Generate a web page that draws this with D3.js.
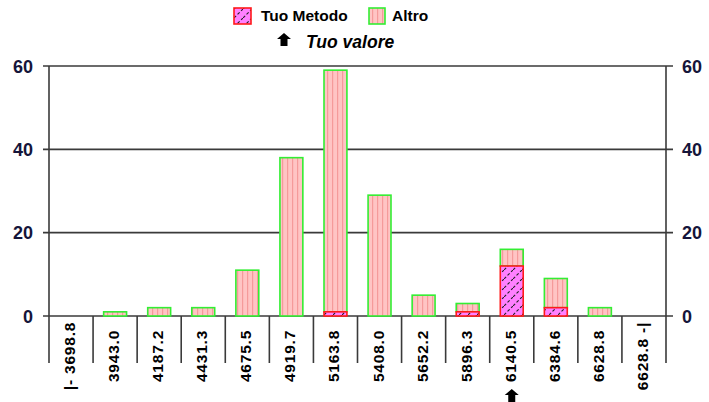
<!DOCTYPE html>
<html><head><meta charset="utf-8">
<script src="https://cdn.jsdelivr.net/npm/d3@7"></script>
<style>body{margin:0;background:#fff}svg{display:block;font-family:"Liberation Sans",Arial,sans-serif}</style>
</head><body>
<svg id="c" width="709" height="402"></svg>
<script>
const categories = ["|- 3698.8","3943.0","4187.2","4431.3","4675.5","4919.7","5163.8","5408.0","5652.2","5896.3","6140.5","6384.6","6628.8","6628.8 -|"];
const tuoMetodo = [0,0,0,0,0,0,1,0,0,1,12,2,0,0];
const altro =     [0,1,2,2,11,38,58,29,5,2,4,7,2,0];
const yTicks = [0,20,40,60];
const seriesNames = ["Tuo Metodo","Altro"];
const markedCategory = "6140.5";
const markerLabel = "Tuo valore";

const svg = d3.select("#c");
const defs = svg.append("defs");
const pa = defs.append("pattern").attr("id","pAltro").attr("patternUnits","userSpaceOnUse").attr("width",5).attr("height",10);
pa.append("rect").attr("width",5).attr("height",10).attr("fill","#ffc4c4");
pa.append("rect").attr("x",2).attr("width",1.2).attr("height",10).attr("fill","#f59a9a");
const pt = defs.append("pattern").attr("id","pTM").attr("patternUnits","userSpaceOnUse").attr("width",9).attr("height",9);
pt.append("rect").attr("width",9).attr("height",9).attr("fill","#ff80ff");
pt.append("line").attr("x1",0).attr("y1",9).attr("x2",9).attr("y2",0).attr("stroke","#222").attr("stroke-width",1.1).attr("stroke-dasharray","3,2");

const x = d3.scaleBand().domain(categories).range([49,666]).paddingInner(0).paddingOuter(0);
const y = d3.scaleLinear().domain([0,60]).range([316,66]);

const gridColor = "#3a3a3a";
svg.append("g").selectAll("line").data(yTicks).join("line")
  .attr("x1",43).attr("x2",673).attr("y1",d=>y(d)).attr("y2",d=>y(d))
  .attr("stroke",gridColor).attr("stroke-width",1.6);

const bounds = categories.map(c=>x(c)).concat([x(categories[categories.length-1])+x.bandwidth()]);
svg.append("g").selectAll("line").data(bounds).join("line")
  .attr("x1",d=>d).attr("x2",d=>d).attr("y1",316).attr("y2",363)
  .attr("stroke",gridColor).attr("stroke-width",1.6);
svg.append("line").attr("x1",49).attr("x2",49).attr("y1",y(60)).attr("y2",316).attr("stroke",gridColor).attr("stroke-width",1.6);
svg.append("line").attr("x1",666).attr("x2",666).attr("y1",y(60)).attr("y2",316).attr("stroke",gridColor).attr("stroke-width",1.6);

const tickColor = "#15153a";
svg.append("g").selectAll("text").data(yTicks).join("text")
  .attr("x",33).attr("y",d=>y(d)+6.5).attr("text-anchor","end")
  .attr("font-size",18).attr("font-weight","bold").attr("fill",tickColor).text(d=>d);
svg.append("g").selectAll("text").data(yTicks).join("text")
  .attr("x",682).attr("y",d=>y(d)+6.5).attr("text-anchor","start")
  .attr("font-size",18).attr("font-weight","bold").attr("fill",tickColor).text(d=>d);

const bw = x.bandwidth()*0.52;
const barG = svg.append("g");
categories.forEach((c,i)=>{
  const cx = x(c)+x.bandwidth()/2;
  const t = tuoMetodo[i], a = altro[i];
  if (a>0) {
    barG.append("rect").attr("x",cx-bw/2).attr("width",bw)
      .attr("y",y(t+a)).attr("height",y(t)-y(t+a))
      .attr("fill","url(#pAltro)").attr("stroke","#33ee33").attr("stroke-width",1.6);
  }
  if (t>0) {
    barG.append("rect").attr("x",cx-bw/2).attr("width",bw)
      .attr("y",y(t)).attr("height",y(0)-y(t))
      .attr("fill","url(#pTM)").attr("stroke","#ff1a1a").attr("stroke-width",1.6);
  }
});

svg.append("g").selectAll("text").data(categories).join("text")
  .attr("transform",d=>`translate(${x(d)+x.bandwidth()/2+4},356) rotate(-90)`)
  .attr("text-anchor","middle").attr("font-size",15.5).attr("letter-spacing",0.8)
  .attr("font-weight","bold").attr("fill","#000").text(d=>d);

function arrow(cx, top){
  const p = [[cx,top],[cx+7,top+6],[cx+3.5,top+6],[cx+3.5,top+13],[cx-3.5,top+13],[cx-3.5,top+6],[cx-7,top+6]];
  svg.append("polygon").attr("points",p.map(q=>q.join(",")).join(" ")).attr("fill","#000");
}
arrow(x(markedCategory)+x.bandwidth()/2, 389);

const leg = svg.append("g");
leg.append("rect").attr("x",234).attr("y",8).attr("width",17).attr("height",16).attr("fill","url(#pTM)").attr("stroke","#ff1a1a").attr("stroke-width",1.6);
leg.append("text").attr("x",261).attr("y",21).attr("font-size",15.5).attr("font-weight","bold").attr("fill","#000").text(seriesNames[0]);
leg.append("rect").attr("x",369).attr("y",8).attr("width",16).attr("height",16).attr("fill","url(#pAltro)").attr("stroke","#33ee33").attr("stroke-width",1.6);
leg.append("text").attr("x",392).attr("y",21).attr("font-size",15.5).attr("font-weight","bold").attr("fill","#000").text(seriesNames[1]);
arrow(284, 33);
leg.append("text").attr("x",306).attr("y",48).attr("font-size",17.5).attr("font-weight","bold").attr("font-style","italic").attr("fill","#000").text(markerLabel);
</script>
</body></html>
